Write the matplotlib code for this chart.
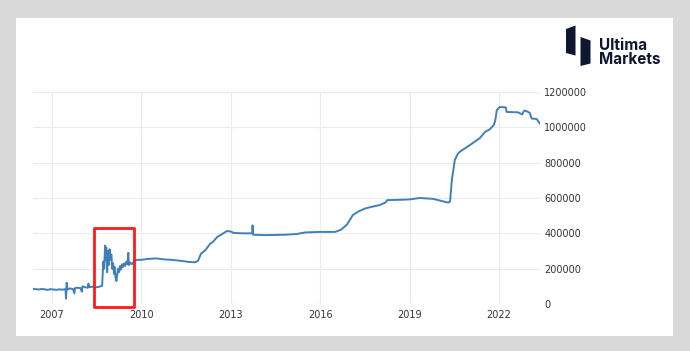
import matplotlib
matplotlib.use('Agg')
from matplotlib import pyplot as plt
from matplotlib.patches import Polygon, Rectangle

# decimal year, value
years = [2006.36, 2006.45, 2006.55, 2006.65, 2006.75, 2006.85, 2006.95, 2007.05, 2007.15, 2007.25,
         2007.35, 2007.45, 2007.47, 2007.49, 2007.52, 2007.6, 2007.7, 2007.75, 2007.77, 2007.85,
         2007.95, 2008.0, 2008.02, 2008.1, 2008.2, 2008.22, 2008.25, 2008.35, 2008.45, 2008.55,
         2008.62, 2008.68, 2008.72, 2008.75, 2008.78, 2008.8, 2008.82, 2008.85, 2008.87, 2008.9,
         2008.93, 2008.96, 2008.99, 2009.02, 2009.05, 2009.08, 2009.1, 2009.13, 2009.16, 2009.19,
         2009.22, 2009.25, 2009.28, 2009.31, 2009.35, 2009.38, 2009.42, 2009.45, 2009.5, 2009.53,
         2009.56, 2009.58, 2009.62, 2009.68, 2009.75, 2009.85, 2010.0, 2010.2, 2010.5, 2010.8,
         2011.0, 2011.3, 2011.6, 2011.8, 2011.9, 2012.0, 2012.15, 2012.3, 2012.4, 2012.55,
         2012.7, 2012.87, 2013.0, 2013.1, 2013.4, 2013.72, 2013.73, 2013.75, 2014.2, 2014.8,
         2015.2, 2015.5, 2016.0, 2016.5, 2016.7, 2016.9, 2017.1, 2017.3, 2017.5, 2017.7,
         2018.0, 2018.2, 2018.25, 2018.7, 2019.0, 2019.35, 2019.8, 2020.1, 2020.3, 2020.36,
         2020.42, 2020.52, 2020.62, 2020.69, 2021.03, 2021.36, 2021.53, 2021.7, 2021.83, 2021.88,
         2021.93, 2022.03, 2022.23, 2022.26, 2022.64, 2022.78, 2022.85, 2022.95, 2023.04, 2023.1,
         2023.27, 2023.38]
values = [86000, 84000, 82000, 85000, 83000, 80000, 84000, 82000, 80000, 83000,
          81000, 84000, 30000, 120000, 82000, 88000, 85000, 60000, 90000, 92000,
          90000, 70000, 100000, 95000, 92000, 115000, 95000, 98000, 95000, 96000,
          100000, 102000, 240000, 200000, 330000, 250000, 320000, 180000, 300000, 220000,
          310000, 250000, 280000, 200000, 230000, 170000, 210000, 150000, 130000, 170000,
          200000, 180000, 215000, 195000, 225000, 210000, 230000, 215000, 240000, 225000,
          290000, 220000, 235000, 225000, 240000, 250000, 250000, 255000, 258000, 252000,
          250000, 245000, 238000, 236000, 245000, 285000, 305000, 340000, 352000, 380000,
          395000, 413000, 410000, 402000, 400000, 400000, 445000, 392000, 390000, 392000,
          396000, 405000, 408000, 408000, 420000, 450000, 504000, 525000, 540000, 549000,
          560000, 575000, 588000, 590000, 592000, 600000, 595000, 582000, 574000, 580000,
          700000, 815000, 850000, 862000, 900000, 939000, 973000, 990000, 1013000, 1040000,
          1098000, 1115000, 1113000, 1087000, 1085000, 1073000, 1095000, 1090000, 1081000, 1050000,
          1047000, 1020000]

year_ticks = [2007, 2010, 2013, 2016, 2019, 2022]
value_ticks = [0, 200000, 400000, 600000, 800000, 1000000, 1200000]

W, H = 690, 351
fig = plt.figure(figsize=(6.9, 3.51), dpi=100)
fig.patch.set_facecolor('#d9d9d9')

# white panel
fig.patches.append(Rectangle((16 / W, 1 - 336 / H), (673 - 16) / W, (336 - 18) / H,
                             transform=fig.transFigure, facecolor='white', edgecolor='none', zorder=-10))

ax = fig.add_axes([33 / W, 1 - 304 / H, (540 - 33) / W, (304 - 92) / H])
ax.set_zorder(1)
ax.set_facecolor('none')
ax.plot(years, values, color='#4080b9', linewidth=1.4)

ax.set_xlim(2006.36, 2023.38)
ax.set_ylim(0, 1200000)
ax.set_xticks(year_ticks)
ax.set_xticklabels([str(y) for y in year_ticks])
ax.set_yticks(value_ticks)
ax.set_yticklabels([str(v) for v in value_ticks])
ax.yaxis.tick_right()
ax.tick_params(length=0, labelsize=7, colors='#333333')
ax.tick_params(axis='y', pad=3)
ax.tick_params(axis='x', pad=4)
ax.grid(True, color='#ececec', linewidth=0.8)
for s in ax.spines.values():
    s.set_visible(False)

# red box around 2008-2009
box = Rectangle((2008.41, -17000), 2009.75 - 2008.41, 430000 + 17000, fill=False,
                edgecolor='#ff1a1a', linewidth=2, joinstyle='round', clip_on=False, zorder=5)
ax.add_patch(box)

# logo
def px(pts):
    return [(x / W, 1 - y / H) for x, y in pts]

fig.patches.append(Polygon(px([(566, 29), (575.5, 25.5), (575.5, 55.5), (566, 53)]),
                           closed=True, transform=fig.transFigure, facecolor='#0e1630', edgecolor='none'))
fig.patches.append(Polygon(px([(580.5, 37), (590.5, 40.5), (590.5, 63.5), (580.5, 66)]),
                           closed=True, transform=fig.transFigure, facecolor='#0e1630', edgecolor='none'))
fig.text(599 / W, 1 - 45 / H, 'Ultima', fontsize=11, fontweight='bold', color='#0e1630',
         family='Inter', va='center', ha='left')
fig.text(599 / W, 1 - 59.5 / H, 'Markets', fontsize=11, fontweight='bold', color='#0e1630',
         family='Inter', va='center', ha='left')

fig.savefig('out.png', dpi=100, facecolor=fig.get_facecolor())
